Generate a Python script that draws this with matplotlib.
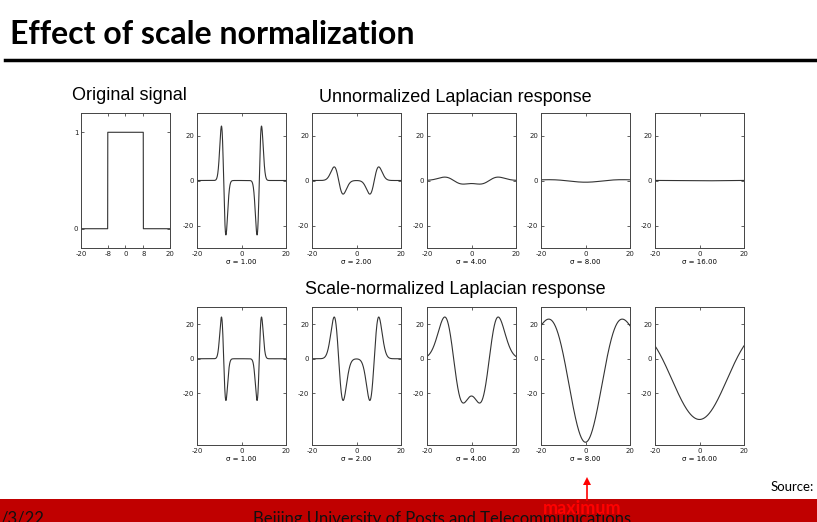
import numpy as np
import matplotlib
matplotlib.use("Agg")
import matplotlib.pyplot as plt

plt.rcParams["axes.unicode_minus"] = False

W, H = 817, 522

# box signal
box_edges = [-8, 8]
box_height = 1.0
# scales shown under each response panel
sigmas = [1.0, 2.0, 4.0, 8.0, 16.0]
gain = 100.0  # response units on the plotted y axes

xticks_signal = [-20, -8, 0, 8, 20]
xticks_resp = [-20, 0, 20]
yticks_resp = [-20, 0, 20]

LINE = "#333333"


def px_axes(fig, left, top, w, h):
    return fig.add_axes([left / W, 1 - (top + h) / H, w / W, h / H])


def style(ax):
    ax.tick_params(direction="in", length=2, width=0.5, labelsize=5,
                   top=True, right=True, pad=2, colors="#222222")
    for s in ax.spines.values():
        s.set_linewidth(0.7)
        s.set_color("#444444")


# sampled signal on a wide grid, then convolved with Gaussian 2nd-derivative kernels
dx = 0.02
grid = np.arange(-160, 160 + dx / 2, dx)
signal = np.where((grid >= box_edges[0]) & (grid <= box_edges[1]), box_height, 0.0)


def laplacian(sig, sigma):
    k = np.arange(-6 * sigma, 6 * sigma + dx / 2, dx)
    g = np.exp(-k ** 2 / (2 * sigma ** 2)) / (np.sqrt(2 * np.pi) * sigma)
    g2 = g * (k ** 2 / sigma ** 4 - 1 / sigma ** 2)
    return np.convolve(sig, g2, mode="same") * dx


responses = {s: gain * laplacian(signal, s) for s in sigmas}
view = (grid >= -20) & (grid <= 20)

fig = plt.figure(figsize=(W / 100, H / 100), dpi=100)

lefts = [81, 197, 312, 427, 541, 655]
aw = 89

# original signal
ax = px_axes(fig, lefts[0], 113, aw, 135)
ax.plot(grid[view], signal[view], color=LINE, lw=0.8)
ax.set_xlim(-20, 20)
ax.set_ylim(-0.2, 1.2)
ax.set_xticks(xticks_signal)
ax.set_yticks([0, 1])
style(ax)

# unnormalized
for i, s in enumerate(sigmas):
    ax = px_axes(fig, lefts[i + 1], 113, aw, 135)
    ax.plot(grid[view], responses[s][view], color=LINE, lw=0.8)
    ax.set_xlim(-20, 20)
    ax.set_ylim(-30, 30)
    ax.set_xticks(xticks_resp)
    ax.set_yticks(yticks_resp)
    ax.set_xlabel(f"σ = {s:.2f}", fontsize=5, labelpad=1.5)
    style(ax)

# scale-normalized
for i, s in enumerate(sigmas):
    ax = px_axes(fig, lefts[i + 1], 307, aw, 138)
    ax.plot(grid[view], s ** 2 * responses[s][view], color=LINE, lw=0.8)
    ax.set_xlim(-20, 20)
    ax.set_ylim(-50, 30)
    ax.set_xticks(xticks_resp)
    ax.set_yticks(yticks_resp)
    ax.set_xlabel(f"σ = {s:.2f}", fontsize=5, labelpad=1.5)
    style(ax)

# slide decorations
fig.text(10 / W, 1 - 35 / H, "Effect of scale normalization", fontsize=23,
         fontweight="bold", family="Lato", va="center", ha="left")
fig.add_artist(plt.Line2D([5 / W, 1], [1 - 60 / H, 1 - 60 / H], color="black", lw=2.5))

fig.text(72 / W, 1 - 96 / H, "Original signal", fontsize=13,
         family="Liberation Sans", va="center", ha="left")
fig.text(455 / W, 1 - 98 / H, "Unnormalized Laplacian response", fontsize=13,
         family="Liberation Sans", va="center", ha="center")
fig.text(455 / W, 1 - 290 / H, "Scale-normalized Laplacian response", fontsize=13,
         family="Liberation Sans", va="center", ha="center")

fig.add_artist(plt.Rectangle((0, 0), 1, 23 / H, color="#C00000", lw=0))
fig.text(0, 1 - 511 / H, "/3/22", fontsize=12, family="Lato", va="top", ha="left",
         color="#111111")
fig.text(442 / W, 1 - 511 / H, "Beijing University of Posts and Telecommunications",
         fontsize=12, family="Lato", va="top", ha="center", color="#111111")
fig.text(792 / W, 1 - 487 / H, "Source:", fontsize=9.5, family="Lato",
         va="center", ha="center")

fig.add_artist(plt.Line2D([587 / W, 587 / W], [1 - 500 / H, 1 - 484 / H], color="red", lw=1.2))
fig.add_artist(plt.Polygon([[583 / W, 1 - 485 / H], [591 / W, 1 - 485 / H],
                            [587 / W, 1 - 477 / H]], closed=True, color="red", lw=0))
fig.text(582 / W, 1 - 508 / H, "maximum", fontsize=13, fontweight="bold",
         family="Lato", color="red", va="center", ha="center")

fig.savefig("out.png", dpi=100)
